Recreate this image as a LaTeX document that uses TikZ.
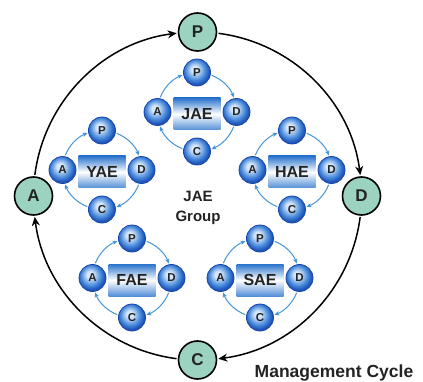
\documentclass[tikz,border=0pt]{standalone}
\usepackage{fontspec}
\setmainfont{Liberation Sans}
\usetikzlibrary{arrows.meta,calc}
\definecolor{mint}{RGB}{155,210,192}
\definecolor{hl}{RGB}{215,232,250}
\definecolor{midb}{RGB}{75,140,220}
\definecolor{edgeb}{RGB}{30,85,185}
\definecolor{balledge}{RGB}{25,70,170}
\definecolor{arrblue}{RGB}{70,150,215}
\definecolor{rectblue}{RGB}{40,115,205}
\definecolor{txt}{RGB}{35,35,35}
\pgfdeclareradialshading{myball}{\pgfqpoint{-5bp}{7bp}}{color(0bp)=(hl); color(6bp)=(hl); color(18bp)=(midb); color(25bp)=(edgeb); color(50bp)=(edgeb)}
\begin{document}
\begin{tikzpicture}[x=1pt,y=1pt,
  bigc/.style={circle, draw=black, line width=1.6pt, fill=mint, minimum size=38pt, inner sep=0pt,
    font=\fontsize{17}{17}\selectfont\bfseries, text=txt},
  smallc/.style={circle, draw=balledge, line width=0.8pt, shading=myball, minimum size=27pt, inner sep=0pt,
    font=\fontsize{11.5}{11.5}\selectfont\bfseries, text=txt},
  lblbox/.style={rectangle, minimum width=47pt, minimum height=32pt, inner sep=0pt,
    top color=rectblue, bottom color=rectblue!80, middle color=white,
    font=\fontsize{16}{16}\selectfont\bfseries, text=txt},
  bigarr/.style={line width=1.5pt, draw=black, -{Stealth[length=9pt,width=8pt]}},
  smallarr/.style={line width=1pt, draw=arrblue, -{Stealth[length=5pt,width=4.5pt]}},
  plain/.style={font=\fontsize{15}{20}\selectfont\bfseries, text=txt, align=center}
]
\useasboundingbox (0,0) rectangle (423,-382);
\coordinate (ctr) at (197.5,-196);
\node[bigc] (P) at (197.5,-32) {P};
\node[bigc] (D) at (361.5,-196) {D};
\node[bigc] (C) at (197.5,-360) {C};
\node[bigc] (A) at (33.5,-196) {A};
\draw[bigarr] ($(P)+(-3.65:21pt)$) arc[start angle=82.7, end angle=7.3, radius=164pt];
\draw[bigarr] ($(D)+(-93.65:21pt)$) arc[start angle=-7.3, end angle=-82.7, radius=164pt];
\draw[bigarr] ($(C)+(176.35:21pt)$) arc[start angle=-97.3, end angle=-172.7, radius=164pt];
\draw[bigarr] ($(A)+(86.35:21pt)$) arc[start angle=172.7, end angle=97.3, radius=164pt];

\foreach \n/\cx/\cy/\lab in {j/197/-112/JAE, y/102/-170/YAE, h/292/-170/HAE, f/132/-278/FAE, s/260/-278/SAE}{
  \node[lblbox] (\n box) at (\cx,\cy-2) {\lab};
  \node[smallc] (\n P) at (\cx,\cy+39.5) {P};
  \node[smallc] (\n D) at (\cx+39.5,\cy) {D};
  \node[smallc] (\n C) at (\cx,\cy-39.5) {C};
  \node[smallc] (\n A) at (\cx-39.5,\cy) {A};
  \draw[smallarr] ($(\n P)+(-10.8:15pt)$) arc[start angle=68.4, end angle=21.6, radius=39.5pt];
  \draw[smallarr] ($(\n D)+(-100.8:15pt)$) arc[start angle=-21.6, end angle=-68.4, radius=39.5pt];
  \draw[smallarr] ($(\n C)+(169.2:15pt)$) arc[start angle=-111.6, end angle=-158.4, radius=39.5pt];
  \draw[smallarr] ($(\n A)+(79.2:15pt)$) arc[start angle=158.4, end angle=111.6, radius=39.5pt];
}
\node[plain] (grp) at (198,-208) {JAE\\Group};
\node[font=\fontsize{17.5}{17.5}\selectfont\bfseries, text=txt, anchor=base] (mc) at (334,-377) {Management Cycle};
\end{tikzpicture}
\end{document}
